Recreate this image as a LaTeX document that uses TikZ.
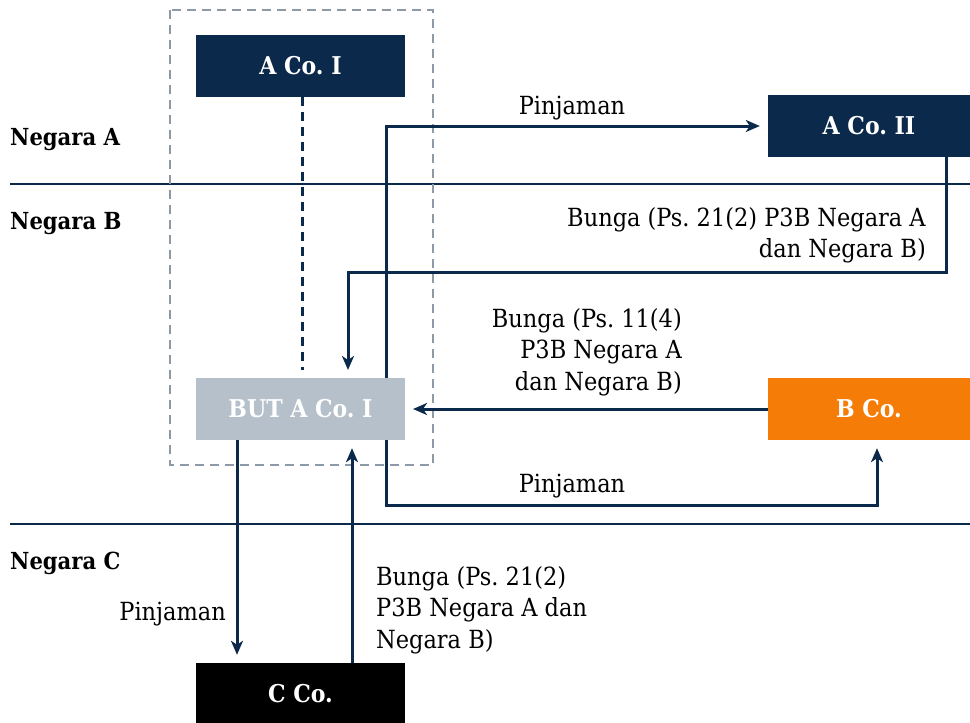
\documentclass[tikz,border=0pt]{standalone}
\usepackage{fontspec}
\setmainfont{DejaVu Serif Condensed}
\usetikzlibrary{arrows.meta,calc}
\definecolor{navy}{HTML}{0B294B}
\definecolor{frame}{HTML}{8C9AA8}
\definecolor{mist}{HTML}{B6C0CA}
\definecolor{amber}{HTML}{F57C06}
\tikzset{
  entity/.style={rectangle, inner sep=0pt, minimum height=62pt, text=white,
    font=\fontsize{24.5}{26}\selectfont\bfseries},
  region/.style={anchor=west, inner sep=0pt, font=\fontsize{23.5}{26}\selectfont\bfseries},
  note/.style={inner sep=0pt, font=\fontsize{25}{31.5}\selectfont},
  conn/.style={draw=navy, line width=3pt},
  flow/.style={conn, -{Stealth[length=14pt,width=12pt,inset=4pt]}, shorten >=8pt},
}
\begin{document}
\frenchspacing
\begin{tikzpicture}[x=1pt,y=-1pt]
\useasboundingbox (0,0) rectangle (970,723);

% country borders
\draw[conn, line width=2.6pt] (10,184) coordinate (ab1) -- (970,184) coordinate (ab2);
\draw[conn, line width=2.6pt] (10,524) coordinate (bc1) -- (970,524) coordinate (bc2);
\node[region] (na) at (10,140) {Negara A};
\node[region] (nb) at (10,224) {Negara B};
\node[region] (nc) at (10,563) {Negara C};

% enterprise boundary of A Co. I
\draw[frame, line width=2.6pt, dash pattern=on 9pt off 6pt] (170,10) rectangle (433,465);

% entities
\node[entity, fill=navy, minimum width=209pt] (aco1) at (300.5,66) {A Co. I};
\node[entity, fill=navy, minimum width=202pt] (aco2) at (869,126) {A Co. II};
\node[entity, fill=amber, minimum width=202pt] (bco) at (869,409) {B Co.};
\node[entity, fill=black, minimum width=209pt] (cco) at (300.5,694) {C Co.};

% column and corner points for the routed connectors
\coordinate (lx) at (386,0);
\coordinate (lb) at (877,505);
\coordinate (bk) at (946,272);
\coordinate (bx) at (348,0);
\coordinate (cl) at (237,0);
\coordinate (cr) at (352,0);

% loans from the permanent establishment (trunk runs behind its box)
\draw[flow] (386,409) |- (aco2.west);
\draw[flow] (386,409) |- (lb) -- (bco.south -| lb);

% head office to permanent establishment
\draw[conn, dash pattern=on 9pt off 6pt] (aco1.south -| 302,0) -- (302,370);

% interest payments
\draw[flow] (aco2.south -| bk) -- (bk) -| (bx |- 378,378);
\draw[flow] (bco.west) -- (405,409);

\node[entity, fill=mist, minimum width=209pt] (but) at (300.5,409) {BUT A Co. I};

\draw[flow] (cl |- but.south) -- (cl |- cco.north);
\draw[flow] (cr |- cco.north) -- (cr |- but.south);

% flow labels
\node[note, anchor=base] (l1) at (572,114) {Pinjaman};
\node[note, anchor=base] (l2) at (572,492) {Pinjaman};
\node[note, anchor=base east] (l3) at (226,620) {Pinjaman};
\node[note, anchor=north east, align=right] (l4) at (926,207) {Bunga (Ps. 21(2) P3B Negara A\\dan Negara B)};
\node[note, anchor=north east, align=right] (l5) at (682,308) {Bunga (Ps. 11(4)\\P3B Negara A\\dan Negara B)};
\node[note, anchor=north west, align=left] (l6) at (376,566) {Bunga (Ps. 21(2)\\P3B Negara A dan\\Negara B)};
\end{tikzpicture}
\end{document}
